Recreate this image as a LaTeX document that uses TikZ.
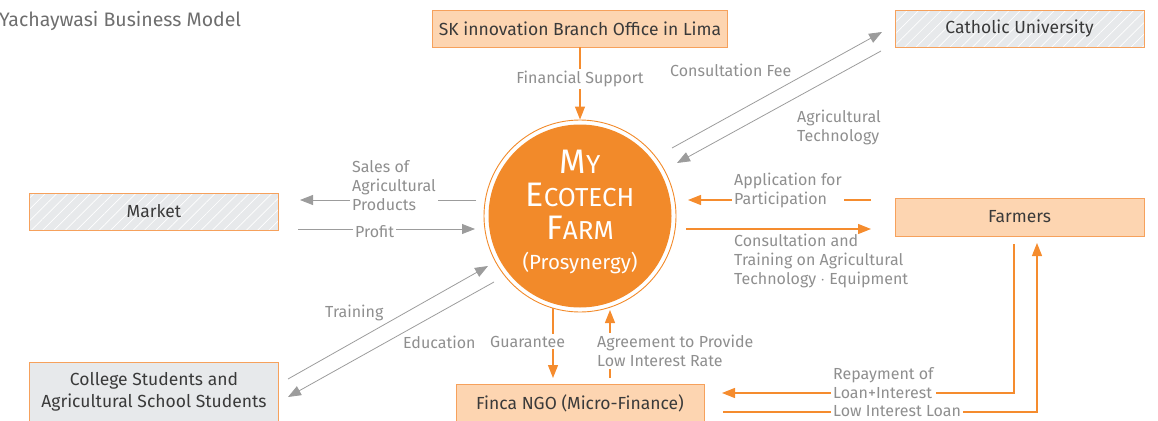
\documentclass[tikz,border=0pt]{standalone}
\usepackage{fontspec}
\setmainfont{Fira Sans}
\usetikzlibrary{arrows.meta,patterns.meta}
\definecolor{farmorange}{HTML}{F28A2A}
\definecolor{lineorange}{HTML}{F58C2E}
\definecolor{boxfill}{HTML}{FDD5B1}
\definecolor{boxline}{HTML}{F6A15C}
\definecolor{hatchgray}{HTML}{E7E9EB}
\definecolor{labelgray}{HTML}{8F8F8F}
\definecolor{arrowgray}{HTML}{9C9C9C}
\definecolor{boxtext}{HTML}{3A3A3A}
\definecolor{titlegray}{HTML}{6E6E6E}
\newcommand\capsword[2]{{\fontsize{34}{33}\selectfont #1}{\fontsize{26}{33}\selectfont #2}}
\begin{document}
\begin{tikzpicture}[x=1pt,y=-1pt,
	boxbase/.style={draw=boxline,line width=0.9pt,text=boxtext,minimum height=37pt,inner sep=0pt,font=\fontsize{17.5}{22}\selectfont},
	orgbox/.style={boxbase,fill=boxfill},
	hatchbox/.style={boxbase,preaction={fill=hatchgray},pattern={Lines[angle=45,distance=8pt,line width=0.7pt]},pattern color=white},
	stubox/.style={boxbase,fill=hatchgray,align=center},
	lbl/.style={text=labelgray,inner sep=0pt,align=left,font=\fontsize{16}{19}\selectfont},
	gaplbl/.style={lbl,fill=white,inner sep=2pt},
	grayarrow/.style={draw=arrowgray,line width=0.8pt,-{Triangle[length=13pt,width=10pt]}},
	orgarrow/.style={draw=lineorange,line width=1.2pt,-{Triangle[length=13pt,width=10pt]}}]
	\useasboundingbox (0,0) rectangle (1158,420);
	
	\node[anchor=base west,inner sep=0pt,text=titlegray,font=\fontsize{19.5}{22}\selectfont] (title) at (-1,27) {Yachaywasi Business Model};
	
	\node[orgbox,minimum width=295pt] (sk) at (580,28.5) {SK innovation Branch Office in Lima};
	\node[hatchbox,minimum width=249pt] (uni) at (1019.5,28.5) {Catholic University};
	\node[hatchbox,minimum width=249pt] (market) at (154,211.5) {Market};
	\node[orgbox,minimum width=249pt,minimum height=38pt] (farmers) at (1019.5,217) {Farmers};
	\node[stubox,minimum width=249pt,minimum height=60pt] (students) at (154,392) {College Students and\\Agricultural School Students};
	\node[orgbox,minimum width=248pt,minimum height=38pt] (finca) at (580,403) {Finca NGO (Micro-Finance)};
	
	\node[circle,draw=farmorange,line width=0.9pt,minimum size=192pt,inner sep=0pt] (ring) at (580,216) {};
	\node[circle,fill=farmorange,minimum size=183pt,inner sep=0pt] (farm) at (580,216) {};
	\node[align=center,text=white,inner sep=0pt,font=\fontsize{34}{33}\selectfont] (farmtxt) at (580,212) {\capsword{M}{Y}\\\capsword{E}{COTECH}\\\capsword{F}{ARM}\\[-3pt]{\fontsize{20.5}{24}\selectfont (Prosynergy)}};
	
	\coordinate (feeA) at (672,148);
	\coordinate (feeB) at (882,32);
	\coordinate (techA) at (881,51);
	\coordinate (techB) at (677,163);
	\coordinate (salesA) at (476,200);
	\coordinate (salesB) at (300,200);
	\coordinate (profitA) at (298,229);
	\coordinate (profitB) at (475,229);
	\coordinate (trainA) at (288,379);
	\coordinate (trainB) at (488,266);
	\coordinate (eduA) at (494,282);
	\coordinate (eduB) at (288,397);
	\coordinate (guarA) at (553,308);
	\coordinate (guarB) at (553,378);
	\coordinate (agreeA) at (610,378);
	\coordinate (agreeB) at (610,310);
	\coordinate (applyA) at (871,200);
	\coordinate (applyB) at (688,200);
	\coordinate (consA) at (686,229);
	\coordinate (consB) at (871,229);
	\coordinate (repayA) at (1014,244);
	\coordinate (repayB) at (722,393);
	\coordinate (loanA) at (723,412);
	\coordinate (loanB) at (1037,243);
	
	\draw[orgarrow] (sk) -- (ring);
	\draw[grayarrow] (feeA) -- (feeB);
	\draw[grayarrow] (techA) -- (techB);
	\draw[grayarrow] (salesA) -- (salesB);
	\draw[grayarrow] (profitA) -- (profitB);
	\draw[grayarrow] (trainA) -- (trainB);
	\draw[grayarrow] (eduA) -- (eduB);
	\draw[orgarrow] (guarA) -- (guarB);
	\draw[orgarrow] (agreeA) -- (agreeB);
	\draw[orgarrow] (applyA) -- (applyB);
	\draw[orgarrow] (consA) -- (consB);
	\draw[orgarrow] (repayA) |- (repayB);
	\draw[orgarrow] (loanA) -| (loanB);
	
	\node[gaplbl] (finlbl) at (580,79) {Financial Support};
	\node[lbl,anchor=base west] (feelbl) at (670,77) {Consultation Fee};
	\node[lbl,anchor=north west] (techlbl) at (797,110) {Agricultural\\Technology};
	\node[gaplbl,anchor=north west] (saleslbl) at (350,158) {Sales of\\Agricultural\\Products};
	\node[gaplbl,anchor=base west] (profitlbl) at (353,237) {Profit};
	\node[lbl,anchor=base west] (trainlbl) at (325,317) {Training};
	\node[lbl,anchor=base west] (edulbl) at (403,348) {Education};
	\node[gaplbl,anchor=base west] (guarlbl) at (488,347) {Guarantee};
	\node[gaplbl,anchor=north west] (agreelbl) at (595,333) {Agreement to Provide\\Low Interest Rate};
	\node[gaplbl,anchor=north west] (applylbl) at (732,171) {Application for\\Participation};
	\node[lbl,anchor=north west] (conslbl) at (734,234) {Consultation and\\Training on Agricultural\\Technology $\cdot$ Equipment};
	\node[gaplbl,anchor=north west] (repaylbl) at (831,365) {Repayment of\\Loan+Interest};
	\node[gaplbl,anchor=base west] (loanlbl) at (831,416) {Low Interest Loan};
\end{tikzpicture}
\end{document}
